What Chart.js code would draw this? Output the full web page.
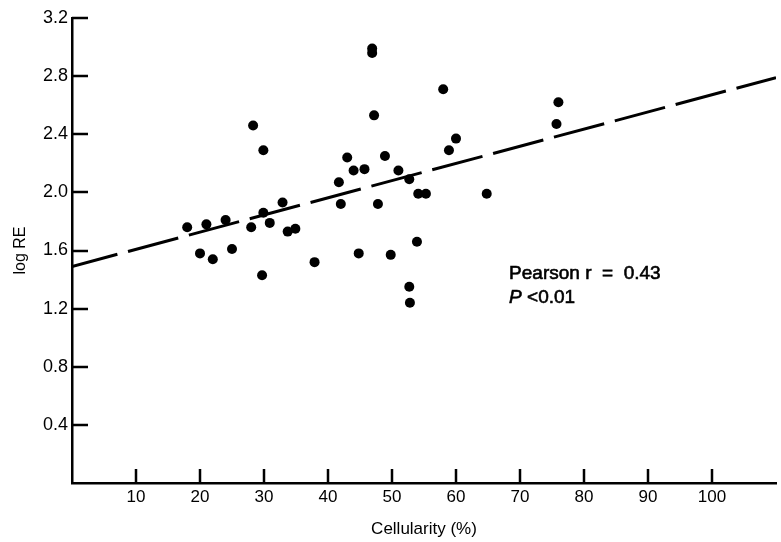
<!DOCTYPE html>
<html lang="en">

<head>
  <meta charset="UTF-8">
  <script src="https://cdn.jsdelivr.net/npm/chart.js"></script>
  <style>
    body { margin: 0; background: #fff; }
    .chart-container { width: 781px; height: 542px; }
  </style>
</head>

<body>
  <div class="chart-container">
    <canvas id="cellularityChart" width="781" height="542"></canvas>
  </div>

  <script>
    // points
    const cellularity = [18, 20, 21, 22, 24, 25, 28.3, 28, 29.9, 29.9, 29.7, 30.9, 32.9, 33.7, 34.9, 37.9,
      41.7, 42, 43, 44, 44.8, 45.7, 46.9, 46.9, 47.2, 47.8, 48.9, 49.8, 51, 52.7, 52.7, 52.8, 53.9, 54.1, 55.3,
      58, 58.9, 60, 64.8, 75.7, 76];
    const logRE = [1.76, 1.58, 1.78, 1.54, 1.81, 1.61, 2.46, 1.76, 2.29, 1.86, 1.43, 1.79, 1.93, 1.73, 1.75, 1.52,
      2.07, 1.92, 2.24, 2.15, 1.58, 2.16, 2.99, 2.96, 2.53, 1.92, 2.25, 1.57, 2.15, 2.09, 1.35, 1.24, 1.66, 1.99, 1.99,
      2.71, 2.29, 2.37, 1.99, 2.47, 2.62];

    // regression line end points
    const fitX = [0, 110];
    const fitY = [1.49, 2.79];

    const xTicks = [10, 20, 30, 40, 50, 60, 70, 80, 90, 100];
    const yTicks = [0.4, 0.8, 1.2, 1.6, 2.0, 2.4, 2.8, 3.2];

    const fontFamily = '"Liberation Sans", Arial, Helvetica, sans-serif';

    // tick marks point inward, like the printed figure
    const inwardTicks = {
      id: 'inwardTicks',
      afterDraw(chart) {
        const ctx = chart.ctx;
        const x = chart.scales.x;
        const y = chart.scales.y;
        const area = chart.chartArea;
        ctx.save();
        ctx.strokeStyle = '#000';
        ctx.lineWidth = 2.5;
        ctx.beginPath();
        yTicks.forEach(v => {
          const py = Math.round(y.getPixelForValue(v));
          ctx.moveTo(area.left, py);
          ctx.lineTo(area.left + 16, py);
        });
        xTicks.forEach(v => {
          const px = Math.round(x.getPixelForValue(v));
          ctx.moveTo(px, area.bottom);
          ctx.lineTo(px, area.bottom - 14);
        });
        ctx.stroke();

        // Pearson note, stroked a little to get the heavier print weight
        ctx.fillStyle = '#000';
        ctx.lineWidth = 0.6;
        ctx.textBaseline = 'alphabetic';
        ctx.textAlign = 'left';
        const tx = x.getPixelForValue(68.3);
        const py1 = y.getPixelForValue(1.404);
        ctx.font = '19px ' + fontFamily;
        ctx.fillText('Pearson r  =  0.43', tx, py1);
        ctx.strokeText('Pearson r  =  0.43', tx, py1);
        const py2 = y.getPixelForValue(1.239);
        ctx.font = 'italic 19px ' + fontFamily;
        ctx.fillText('P', tx, py2);
        ctx.strokeText('P', tx, py2);
        const pw = ctx.measureText('P').width;
        ctx.font = '19px ' + fontFamily;
        ctx.fillText(' <0.01', tx + pw, py2);
        ctx.strokeText(' <0.01', tx + pw, py2);
        ctx.restore();
      }
    };

    const canvas = document.getElementById('cellularityChart');
    new Chart(canvas, {
      type: 'scatter',
      data: {
        datasets: [{
          label: 'log RE',
          data: cellularity.map((c, i) => ({ x: c, y: logRE[i] })),
          pointRadius: 5,
          pointHoverRadius: 5,
          backgroundColor: '#000',
          borderWidth: 0,
        }, {
          type: 'line',
          label: 'fit',
          data: fitX.map((c, i) => ({ x: c, y: fitY[i] })),
          borderColor: '#000',
          borderWidth: 3,
          borderDash: [52, 11],
          borderDashOffset: 5,
          pointRadius: 0,
          fill: false,
        }],
      },
      options: {
        responsive: false,
        animation: false,
        layout: { padding: { top: 18, left: 0, right: 0, bottom: 0 } },
        plugins: {
          legend: { display: false },
          tooltip: { enabled: false },
        },
        scales: {
          x: {
            type: 'linear',
            min: 0,
            max: 110,
            afterBuildTicks: scale => { scale.ticks = xTicks.map(v => ({ value: v })); },
            afterFit: scale => { scale.height = 59; },
            grid: { display: false, drawTicks: false },
            border: { display: true, color: '#000', width: 2.5 },
            ticks: {
              color: '#000',
              padding: 4,
              maxRotation: 0,
              font: { family: fontFamily, size: 17 },
            },
            title: {
              display: true,
              text: 'Cellularity (%)',
              color: '#000',
              padding: { top: 0, bottom: 2 },
              font: { family: fontFamily, size: 17 },
            },
          },
          y: {
            min: 0,
            max: 3.2,
            afterBuildTicks: scale => { scale.ticks = yTicks.map(v => ({ value: v })); },
            afterFit: scale => { scale.width = 72; },
            grid: { display: false, drawTicks: false },
            border: { display: true, color: '#000', width: 2.5 },
            ticks: {
              color: '#000',
              padding: 4,
              font: { family: fontFamily, size: 18 },
              callback: v => v.toFixed(1),
            },
            title: {
              display: true,
              text: 'log RE',
              color: '#000',
              padding: { top: 11, bottom: 0 },
              font: { family: fontFamily, size: 16 },
            },
          },
        },
      },
      plugins: [inwardTicks],
    });
  </script>
</body>

</html>
